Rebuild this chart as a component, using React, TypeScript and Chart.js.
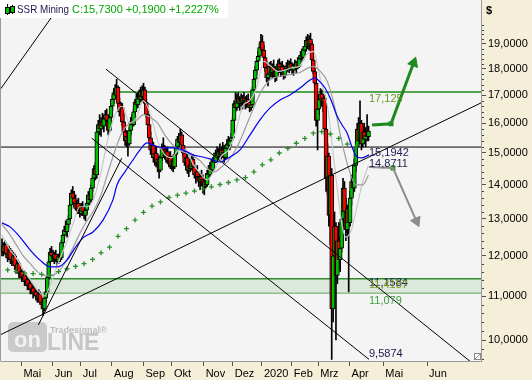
import React, { useEffect, useRef } from 'react';
import { Chart, registerables } from 'chart.js';
Chart.register(...registerables);

const FONT = 'Liberation Sans, Arial, sans-serif';

const title = 'SSR Mining';

const openP = [
  12.10,12.25,12.10,12.30,12.05,11.95,12.15,11.90,11.85,12.00,
  11.75,11.65,11.80,11.55,11.60,11.45,11.50,11.35,11.40,11.25,
  11.30,11.15,11.20,11.05,11.10,11.00,10.95,11.05,10.85,10.80,
  10.70,10.95,11.10,11.45,11.85,12.10,12.00,11.95,12.05,11.90,
  11.85,12.00,11.95,12.35,12.55,12.70,12.65,12.85,13.00,13.40,
  13.75,13.60,13.45,13.30,13.45,13.25,13.15,13.35,13.20,13.10,
  13.25,13.45,13.70,13.55,13.90,14.20,14.50,14.30,15.70,15.95,
  15.80,16.05,15.90,16.15,16.30,16.10,15.75,16.20,16.60,16.85,
  17.10,17.00,17.30,16.70,16.40,16.55,16.05,15.70,15.40,15.55,
  15.30,15.75,16.05,15.95,16.40,16.75,16.65,16.95,16.85,17.15,
  16.95,17.20,16.70,16.30,15.95,15.50,15.10,15.25,14.85,15.00,
  14.70,14.80,14.45,14.85,15.20,15.10,14.90,15.05,14.75,14.90,
  14.60,14.75,14.55,14.95,15.20,15.45,15.35,15.60,15.25,15.00,
  14.70,14.85,14.45,14.60,14.50,14.80,14.55,14.30,14.40,14.25,
  14.10,14.25,14.15,13.95,14.10,14.00,14.35,14.30,14.60,14.45,
  14.75,14.70,15.00,14.90,15.05,14.95,15.10,15.00,14.85,15.15,
  15.30,15.25,15.40,15.50,16.10,16.70,16.55,16.90,16.70,16.85,
  16.75,16.90,16.80,16.70,16.85,16.75,16.55,16.65,17.20,17.60,
  17.95,18.30,18.50,18.85,19.10,18.75,18.45,18.05,17.65,17.80,
  18.10,17.85,18.05,17.90,17.70,17.95,18.20,17.95,18.10,17.90,
  17.75,18.00,18.10,18.00,18.20,18.05,17.95,18.15,18.05,18.25,
  18.10,18.40,18.55,18.45,18.75,18.90,19.15,18.95,19.20,19.00,
  18.35,17.90,17.45,16.10,16.50,16.85,17.05,16.75,16.90,15.80,
  14.20,14.90,13.10,14.30,10.70,12.00,12.80,11.50,12.40,11.90,
  12.20,13.00,13.90,13.20,12.70,13.30,12.90,13.60,14.10,13.90,
  14.60,15.20,15.80,15.40,16.00,15.30,15.70,15.45,15.60,15.54,
];

const highP = [
  12.45,12.35,12.40,12.35,12.15,12.25,12.20,12.00,12.10,12.05,
  11.85,11.90,11.85,11.70,11.65,11.60,11.55,11.50,11.45,11.40,
  11.35,11.30,11.25,11.20,11.15,11.10,11.15,11.10,10.95,10.90,
  11.00,11.20,11.50,11.90,12.20,12.25,12.15,12.10,12.15,12.00,
  12.05,12.10,12.40,12.60,12.80,12.95,12.90,13.10,13.45,13.85,
  13.95,13.80,13.70,13.55,13.60,13.40,13.45,13.50,13.35,13.30,
  13.55,13.80,13.85,14.00,14.30,14.60,14.70,15.85,16.10,16.30,
  16.20,16.35,16.25,16.45,16.50,16.20,16.30,16.70,17.00,17.25,
  17.40,17.60,17.35,16.90,16.75,16.70,16.30,15.90,15.75,15.70,
  15.85,16.20,16.30,16.50,16.85,17.05,17.10,17.20,17.30,17.35,
  17.45,17.30,16.85,16.45,16.15,15.70,15.40,15.35,15.15,15.20,
  14.95,14.90,14.95,15.30,15.50,15.25,15.15,15.20,15.00,15.05,
  14.85,14.90,15.00,15.30,15.55,15.65,15.80,15.70,15.40,15.15,
  14.95,14.95,14.70,14.80,14.90,14.95,14.70,14.50,14.60,14.40,
  14.35,14.45,14.30,14.20,14.35,14.45,14.60,14.70,14.80,14.85,
  15.00,15.10,15.20,15.15,15.30,15.20,15.35,15.25,15.20,15.45,
  15.55,15.50,15.65,16.20,16.80,17.10,17.05,17.10,16.95,17.05,
  17.00,17.10,16.95,17.00,17.05,16.85,16.80,17.30,17.70,18.10,
  18.40,18.70,19.00,19.40,19.35,18.95,18.70,18.30,17.95,18.25,
  18.30,18.20,18.35,18.10,18.00,18.35,18.40,18.25,18.30,18.15,
  18.05,18.25,18.35,18.30,18.40,18.25,18.20,18.35,18.30,18.45,
  18.50,18.70,18.80,18.90,19.10,19.30,19.40,19.35,19.45,19.10,
  18.55,18.05,17.60,16.70,17.00,17.25,17.20,17.00,17.00,16.40,
  15.30,15.00,14.60,14.50,12.30,13.20,12.90,12.60,12.90,12.50,
  13.20,14.20,14.10,13.60,13.40,13.50,13.80,14.30,14.60,14.80,
  15.40,16.00,16.20,16.80,16.10,15.90,16.00,15.85,16.30,15.90,
];

const lowP = [
  12.00,12.00,12.05,11.95,11.85,11.90,11.80,11.75,11.80,11.65,
  11.55,11.60,11.45,11.45,11.35,11.40,11.25,11.30,11.15,11.20,
  11.05,11.10,10.95,11.00,10.90,10.85,10.90,10.80,10.70,10.55,
  10.65,10.85,11.05,11.40,11.75,11.90,11.85,11.80,11.85,11.75,
  11.80,11.85,11.90,12.25,12.45,12.55,12.50,12.75,12.95,13.30,
  13.50,13.35,13.25,13.15,13.20,13.05,13.10,13.10,13.00,12.95,
  13.15,13.35,13.40,13.50,13.80,14.10,14.15,14.20,15.40,15.60,
  15.55,15.80,15.70,15.95,16.00,15.60,15.70,16.10,16.45,16.70,
  16.90,16.95,16.60,16.25,16.20,15.90,15.60,15.25,15.20,14.90,
  15.25,15.60,15.80,15.90,16.30,16.50,16.55,16.70,16.75,16.80,
  16.85,16.60,16.20,15.80,15.40,14.95,14.85,14.70,14.60,14.55,
  14.40,14.20,14.40,14.75,15.00,14.80,14.70,14.65,14.55,14.50,
  14.45,14.40,14.50,14.85,15.10,15.20,15.30,15.15,14.90,14.60,
  14.45,14.35,14.25,14.40,14.45,14.45,14.20,14.05,14.15,13.95,
  13.85,14.00,13.75,13.70,13.90,13.95,14.20,14.25,14.35,14.40,
  14.55,14.70,14.80,14.75,14.85,14.80,14.95,14.70,14.80,15.05,
  15.15,15.10,15.25,15.45,16.00,16.40,16.45,16.55,16.45,16.60,
  16.50,16.65,16.50,16.55,16.60,16.40,16.45,16.60,17.10,17.50,
  17.80,18.10,18.35,18.70,18.60,18.30,17.90,17.50,17.35,17.60,
  17.70,17.65,17.75,17.50,17.55,17.80,17.85,17.70,17.80,17.60,
  17.65,17.85,17.90,17.85,17.95,17.80,17.75,17.95,17.85,18.00,
  18.05,18.20,18.30,18.35,18.55,18.70,18.80,18.75,18.85,18.20,
  17.80,17.30,15.90,15.10,16.30,16.60,16.60,16.40,15.60,13.80,
  13.70,12.80,12.30,9.5874,10.40,11.40,10.00,11.30,11.70,11.60,
  12.10,12.80,12.90,12.40,12.50,11.10,12.80,13.40,13.70,13.80,
  14.40,15.00,15.20,15.30,15.10,15.20,15.30,15.20,15.40,15.40,
];

const closeP = [
  12.25,12.10,12.30,12.05,11.95,12.15,11.90,11.85,12.00,11.75,
  11.65,11.80,11.55,11.60,11.45,11.50,11.35,11.40,11.25,11.30,
  11.15,11.20,11.05,11.10,11.00,10.95,11.05,10.85,10.80,10.70,
  10.95,11.10,11.45,11.85,12.10,12.00,11.95,12.05,11.90,11.85,
  12.00,11.95,12.35,12.55,12.70,12.65,12.85,13.00,13.40,13.75,
  13.60,13.45,13.30,13.45,13.25,13.15,13.35,13.20,13.10,13.25,
  13.45,13.70,13.55,13.90,14.20,14.50,14.30,15.70,15.95,15.80,
  16.05,15.90,16.15,16.30,16.10,15.75,16.20,16.60,16.85,17.10,
  17.00,17.30,16.70,16.40,16.55,16.05,15.70,15.40,15.55,15.30,
  15.75,16.05,15.95,16.40,16.75,16.65,16.95,16.85,17.15,16.95,
  17.20,16.70,16.30,15.95,15.50,15.10,15.25,14.85,15.00,14.70,
  14.80,14.45,14.85,15.20,15.10,14.90,15.05,14.75,14.90,14.60,
  14.75,14.55,14.95,15.20,15.45,15.35,15.60,15.25,15.00,14.70,
  14.85,14.45,14.60,14.50,14.80,14.55,14.30,14.40,14.25,14.10,
  14.25,14.15,13.95,14.10,14.00,14.35,14.30,14.60,14.45,14.75,
  14.70,15.00,14.90,15.05,14.95,15.10,15.00,14.85,15.15,15.30,
  15.25,15.40,15.50,16.10,16.70,16.55,16.90,16.70,16.85,16.75,
  16.90,16.80,16.70,16.85,16.75,16.55,16.65,17.20,17.60,17.95,
  18.30,18.50,18.85,19.10,18.75,18.45,18.05,17.65,17.80,18.10,
  17.85,18.05,17.90,17.70,17.95,18.20,17.95,18.10,17.90,17.75,
  18.00,18.10,18.00,18.20,18.05,17.95,18.15,18.05,18.25,18.10,
  18.40,18.55,18.45,18.75,18.90,19.15,18.95,19.20,19.00,18.35,
  17.90,17.45,16.10,16.50,16.85,17.05,16.75,16.90,15.80,14.20,
  14.90,13.10,14.30,10.70,12.00,12.80,11.50,12.40,11.90,12.20,
  13.00,13.90,13.20,12.70,13.30,12.90,13.60,14.10,13.90,14.60,
  15.20,15.80,15.40,16.00,15.30,15.70,15.45,15.60,15.54,15.73,
];

const monthLabels = ['Mai', 'Jun', 'Jul', 'Aug', 'Sep', 'Okt', 'Nov', 'Dez', '2020', 'Feb', 'Mrz', 'Apr', 'Mai', 'Jun'];
const monthPositions = [13.7, 35.8, 55.7, 77.7, 100.0, 120.1, 142.5, 163.1, 183.7, 204.8, 223.5, 245.6, 269.5, 300.4];
const priceTicks = [10, 11, 12, 13, 14, 15, 16, 17, 18, 19];

const blueMA = [
  [0,12.89],[5.7,12.78],[12.7,12.50],[19.8,12.16],[26.9,11.89],[33.9,11.72],[39.6,11.72],[45.9,11.89],
  [51.6,12.21],[57.2,12.48],[64.3,12.64],[71.4,12.97],[78.4,13.55],[81.3,14.0],[86.9,14.40],[92.6,14.78],
  [97.5,15.10],[102.5,15.33],[106.7,15.26],[113.8,15.17],[120.8,15.17],[127.9,15.10],[135,14.94],[142,14.87],
  [147,14.81],[154,14.71],[161.1,14.87],[168.2,15.10],[175.3,15.60],[182.3,16.12],[189.4,16.54],[196.5,16.83],
  [203.5,17.01],[210.6,17.27],[217.7,17.57],[221.2,17.65],[224.7,17.50],[228.3,17.27],[232.5,16.83],[236.7,16.26],
  [240.3,15.94],[243.8,15.67],[247.3,15.20],[250.9,14.87],[254.4,14.84],[259.4,14.94],
];

const grayMA = [
  [0,12.85],[5,12.6],[10,12.3],[15,12.0],[20,11.8],[25,11.6],[30,11.5],[35,11.5],[40,11.6],[45,11.85],
  [50,12.2],[55,12.6],[60,12.95],[65,13.25],[70,13.7],[75,14.4],[80,15.1],[85,15.7],[90,16.0],[95,16.1],
  [100,16.3],[105,16.2],[110,16.0],[115,15.6],[120,15.3],[125,15.1],[130,15.0],[135,14.9],[140,14.75],[145,14.5],
  [150,14.4],[155,14.55],[160,14.75],[165,15.1],[170,15.6],[175,16.2],[180,16.8],[185,17.3],[190,17.6],[195,17.7],
  [200,17.75],[205,17.8],[210,17.85],[215,18.0],[220,18.1],[225,17.9],[230,17.5],[235,16.6],[240,15.4],[245,14.5],
  [250,14.0],[255,14.0],[259,14.3],
];

const lightGrayMA = [
  [0,12.55],[5,12.2],[10,11.95],[15,11.65],[20,11.4],[25,11.15],[30,11.0],[35,11.35],[40,11.85],[45,12.3],
  [50,12.85],[55,13.35],[60,13.35],[65,13.6],[70,14.4],[75,15.5],[80,16.3],[85,16.6],[90,16.0],[95,16.2],
  [100,16.8],[105,16.3],[110,15.4],[115,14.95],[120,14.85],[125,15.1],[130,15.1],[135,14.65],[140,14.35],[145,14.15],
  [150,14.45],[155,14.9],[160,15.1],[165,15.7],[170,16.6],[175,16.8],[180,17.3],[185,18.3],[190,18.1],[195,17.9],
  [200,17.95],[205,18.05],[210,18.1],[215,18.55],[220,18.7],[225,17.6],[230,16.6],[235,14.6],[240,12.9],[243,12.5],
  [247,12.7],[250,13.2],[255,14.1],[259,14.6],
];

const greenDots = [
  [4,11.64],[10,11.60],[16,11.56],[22,11.55],[28,11.53],[34,11.51],[40,11.60],[46,11.67],[52,11.73],[58,11.80],
  [64,11.91],[70,12.08],[76,12.23],[82,12.52],[88,12.73],[94,12.97],[100,13.19],[106,13.37],[112,13.49],[118,13.62],
  [124,13.69],[130,13.75],[136,13.81],[142,13.88],[148,13.94],[154,14.01],[160,14.07],[166,14.15],[172,14.22],[178,14.40],
  [184,14.62],[190,14.78],[196,15.00],[202,15.15],[208,15.32],[214,15.48],[220,15.66],[226,15.71],[232,15.63],[238,15.48],
  [244,15.29],[250,15.20],
];

const trendLines = [
  [[-2.12, 17.15], [45.2, 21.04]],
  [[73.5, 17.99], [335, 9.45]],
  [[63.4, 15.49], [259.4, 9.5874]],
  [[-1.41, 10.11], [341.3, 16.79]],
  [[25.7, 10.33], [84.6, 14.83]],
];

const resistanceLevel = [[78.4, 17.125], [345, 17.125]];
const pivotLevel = [[-2, 15.1942], [345, 15.1942]];
const bandTop = [[-2, 11.4187], [345, 11.4187]];
const bandBottom = [[-2, 11.079], [345, 11.079]];

const upArrow = [[261.5, 15.94], [274.9, 15.98], [290.9, 18.24]];
const downArrow = [[259.4, 14.55], [276.3, 14.52], [292.9, 12.94]];

const levelTexts = ['17,125', '15,1942', '14,8711', '11,1584', '11,4187', '11,079', '9,5874'];
const levelValues = [17.125, 15.1942, 14.8711, 11.1584, 11.4187, 11.079, 9.5874];

const fmt = (v: number, d: number) => v.toFixed(d).replace('.', ',');
const xy = (pts: number[][]) => pts.map(([x, y]) => ({ x, y }));

export default function App() {
  const ref = useRef<HTMLCanvasElement>(null);

  useEffect(() => {
    const canvas = ref.current;
    if (!canvas) return;
    const n = closeP.length;
    const last = closeP[n - 1];
    const prev = closeP[n - 2];
    const diff = last - prev;
    const pct = (diff / prev) * 100;
    const quote = `C:${fmt(last, 4)} +${fmt(diff, 4)} +${fmt(pct, 4)}%`;

    const levelColors = ['#5F9A28', '#1C1C50', '#1C1C50', '#1C1C50', '#7A9420', '#3E9E3E', '#1C1C50'];
    const levelOffsets = [7, 6, 7, -6, 6.5, 8, -5.5];

    const deco = {
      id: 'deco',
      beforeDraw(chart: any) {
        const { ctx, chartArea: a } = chart;
        ctx.save();
        ctx.fillStyle = '#F5EED8';
        ctx.fillRect(0, 0, chart.width, chart.height);
        ctx.fillStyle = '#F4F4F4';
        ctx.fillRect(a.left, a.top, a.right - a.left, a.bottom - a.top);
        ctx.restore();
      },
      beforeDatasetsDraw(chart: any) {
        const { ctx } = chart;
        ctx.save();
        ctx.fillStyle = '#CACACA';
        ctx.beginPath();
        ctx.roundRect(8, 322, 39, 30, 5);
        ctx.fill();
        ctx.fillStyle = '#F2F2F2';
        ctx.font = `bold 22px ${FONT}`;
        ctx.textAlign = 'center';
        ctx.textBaseline = 'alphabetic';
        ctx.fillText('on', 27.5, 347);
        ctx.fillStyle = '#C6C6C6';
        ctx.textAlign = 'left';
        ctx.font = `bold 23px ${FONT}`;
        ctx.fillText('LINE', 47, 350, 57);
        ctx.fillStyle = '#BEBEBE';
        ctx.font = `bold 9px ${FONT}`;
        ctx.fillText('Tradesignal®', 50, 333, 58);
        ctx.restore();
      },
      afterDatasetsDraw(chart: any) {
        const { ctx } = chart;
        const xs = chart.scales.x;
        const ys = chart.scales.y;
        const lx = xs.getPixelForValue(n - 1) + 0.5;
        ctx.save();
        ctx.font = `11px ${FONT}`;
        ctx.textAlign = 'left';
        ctx.textBaseline = 'middle';
        levelTexts.forEach((t, k) => {
          ctx.fillStyle = levelColors[k];
          ctx.fillText(t, lx, ys.getPixelForValue(levelValues[k]) + levelOffsets[k]);
        });
        ctx.restore();
      },
      afterDraw(chart: any) {
        const { ctx, chartArea: a } = chart;
        const ys = chart.scales.y;
        ctx.save();
        ctx.strokeStyle = '#9A9A9A';
        ctx.lineWidth = 1;
        ctx.beginPath();
        ctx.moveTo(0.5, 0);
        ctx.lineTo(0.5, a.bottom + 0.5);
        ctx.stroke();
        ctx.strokeStyle = '#404040';
        for (let k = 48; k <= 100; k++) {
          if (k % 5 === 0) continue;
          const v = k / 5;
          const y = Math.round(ys.getPixelForValue(v)) + 0.5;
          if (y < a.top || y > a.bottom) continue;
          ctx.beginPath();
          ctx.moveTo(a.right + 1, y);
          ctx.lineTo(a.right + 3, y);
          ctx.stroke();
        }
        ctx.fillStyle = '#000';
        ctx.font = `bold 11px ${FONT}`;
        ctx.textBaseline = 'middle';
        ctx.textAlign = 'left';
        ctx.fillText('$', 486, 11);
        ctx.strokeStyle = '#8A8A8A';
        ctx.fillStyle = '#FFFFFF';
        ctx.fillRect(474.5, 353.5, 6, 6);
        ctx.strokeRect(474.5, 353.5, 6, 6);
        ctx.beginPath();
        ctx.moveTo(475, 359);
        ctx.lineTo(480, 354);
        ctx.stroke();
        ctx.fillStyle = '#FFFFFF';
        ctx.fillRect(0, 0, 228, 18);
        ctx.strokeStyle = '#000';
        ctx.beginPath();
        ctx.moveTo(7.5, 4); ctx.lineTo(7.5, 15);
        ctx.moveTo(12.5, 5); ctx.lineTo(12.5, 14);
        ctx.stroke();
        ctx.fillStyle = '#00C000';
        ctx.fillRect(5.5, 7.5, 4, 6);
        ctx.strokeRect(5.5, 7.5, 4, 6);
        ctx.fillRect(10.5, 6.5, 4, 6);
        ctx.strokeRect(10.5, 6.5, 4, 6);
        ctx.font = `11px ${FONT}`;
        ctx.textBaseline = 'middle';
        ctx.fillStyle = '#1A1A50';
        ctx.fillText(title, 17, 9.5, 52);
        ctx.fillStyle = '#00A800';
        ctx.fillText(quote, 72, 9.5, 152);
        ctx.restore();
      },
    };

    const idx = closeP.map((_, i) => i);
    const lineBase = { type: 'line', pointRadius: 0, pointHoverRadius: 0, fill: false, tension: 0 };

    const datasets: any[] = [
      { ...lineBase, data: xy(upArrow), borderColor: '#1E8A1E', borderWidth: 3, order: 0 },
      { ...lineBase, data: xy(downArrow), borderColor: '#8C8C8C', borderWidth: 2, order: 0 },
      {
        type: 'line', showLine: false, order: 0,
        data: xy([upArrow[2]]), pointStyle: 'triangle', pointRadius: 6, pointRotation: 20,
        pointBackgroundColor: '#1E8A1E', pointBorderColor: '#1E8A1E', pointBorderWidth: 1,
      },
      {
        type: 'line', showLine: false, order: 0,
        data: xy([downArrow[2]]), pointStyle: 'triangle', pointRadius: 6, pointRotation: 156,
        pointBackgroundColor: '#8C8C8C', pointBorderColor: '#8C8C8C', pointBorderWidth: 1,
      },
      {
        type: 'line', showLine: false, order: 0,
        data: xy([upArrow[1], downArrow[1]]), pointStyle: 'rect', pointRadius: 3.5,
        pointBackgroundColor: '#1E8A1E', pointBorderColor: '#1E8A1E', pointBorderWidth: 0,
      },
      ...trendLines.map((seg) => ({ ...lineBase, data: xy(seg), borderColor: '#000', borderWidth: 1, order: 1 })),
      { ...lineBase, data: xy(blueMA), borderColor: '#0000F0', borderWidth: 1.2, cubicInterpolationMode: 'monotone', order: 2 },
      { ...lineBase, data: xy(grayMA), borderColor: '#9C9C9C', borderWidth: 1.2, cubicInterpolationMode: 'monotone', order: 3 },
      { ...lineBase, data: xy(lightGrayMA), borderColor: '#C8C8C8', borderWidth: 1.2, cubicInterpolationMode: 'monotone', order: 3 },
      {
        type: 'line', showLine: false, order: 2, data: xy(greenDots),
        pointStyle: 'cross', pointRadius: 2.5, pointBorderColor: '#2A8F2A', pointBorderWidth: 1.3,
      },
      {
        type: 'bar', order: 5, grouped: false, barThickness: 4,
        data: idx.map((i) => ({ x: i, y: [openP[i], closeP[i]] })),
        backgroundColor: idx.map((i) => (closeP[i] >= openP[i] ? '#00BE00' : '#FF0000')),
        borderColor: '#000', borderWidth: 1, borderSkipped: false,
      },
      {
        type: 'bar', order: 6, grouped: false, barThickness: 1,
        data: idx.map((i) => ({ x: i, y: [lowP[i], highP[i]] })),
        backgroundColor: '#000', borderWidth: 0,
      },
      { ...lineBase, data: xy(resistanceLevel), borderColor: '#1E8A1E', borderWidth: 1.5, order: 7 },
      { ...lineBase, data: xy(pivotLevel), borderColor: '#000', borderWidth: 1, order: 7 },
      { ...lineBase, data: xy(bandTop), borderColor: '#2E8B2E', borderWidth: 1.5, fill: '+1', backgroundColor: '#DCE8DC', order: 8 },
      { ...lineBase, data: xy(bandBottom), borderColor: '#2E8B2E', borderWidth: 1.5, order: 8 },
    ];

    const chart = new Chart(canvas, {
      type: 'bar',
      data: { datasets },
      options: {
        responsive: false,
        animation: false,
        devicePixelRatio: 1,
        layout: { autoPadding: false, padding: { left: 1, top: 0, right: 0, bottom: 0 } },
        plugins: { legend: { display: false }, tooltip: { enabled: false } },
        events: [],
        scales: {
          x: {
            type: 'linear',
            min: -0.707,
            max: 338.5,
            offset: false,
            afterBuildTicks: (s: any) => { s.ticks = monthPositions.map((v) => ({ value: v })); },
            afterFit: (s: any) => { s.height = 19; s.paddingLeft = 0; s.paddingRight = 0; },
            ticks: {
              autoSkip: false, maxRotation: 0, minRotation: 0, align: 'start', labelOffset: 2, padding: 1,
              color: '#000', font: { family: FONT, size: 11 },
              callback: (_v: any, i: number) => monthLabels[i],
            },
            grid: { drawOnChartArea: false, drawTicks: true, tickLength: 5, color: '#505050', offset: false },
            border: { display: true, color: '#9A9A9A' },
          },
          y: {
            type: 'logarithmic',
            position: 'right',
            min: 9.555,
            max: 20.9,
            afterBuildTicks: (s: any) => { s.ticks = priceTicks.map((v) => ({ value: v })); },
            afterFit: (s: any) => { s.width = 51; s.paddingTop = 0; s.paddingBottom = 0; },
            ticks: {
              autoSkip: false, padding: 2, color: '#000', font: { family: FONT, size: 11 },
              callback: (v: any) => fmt(Number(v), 4),
            },
            grid: { drawOnChartArea: false, drawTicks: true, tickLength: 5, color: '#505050' },
            border: { display: true, color: '#9A9A9A' },
          },
        },
      } as any,
      plugins: [deco],
    });

    return () => chart.destroy();
  }, []);

  return (
    <div style={{ position: 'absolute', left: 0, top: 0, width: 532, height: 380 }}>
      <canvas ref={ref} width={532} height={380} style={{ display: 'block', width: 532, height: 380 }} />
    </div>
  );
}
